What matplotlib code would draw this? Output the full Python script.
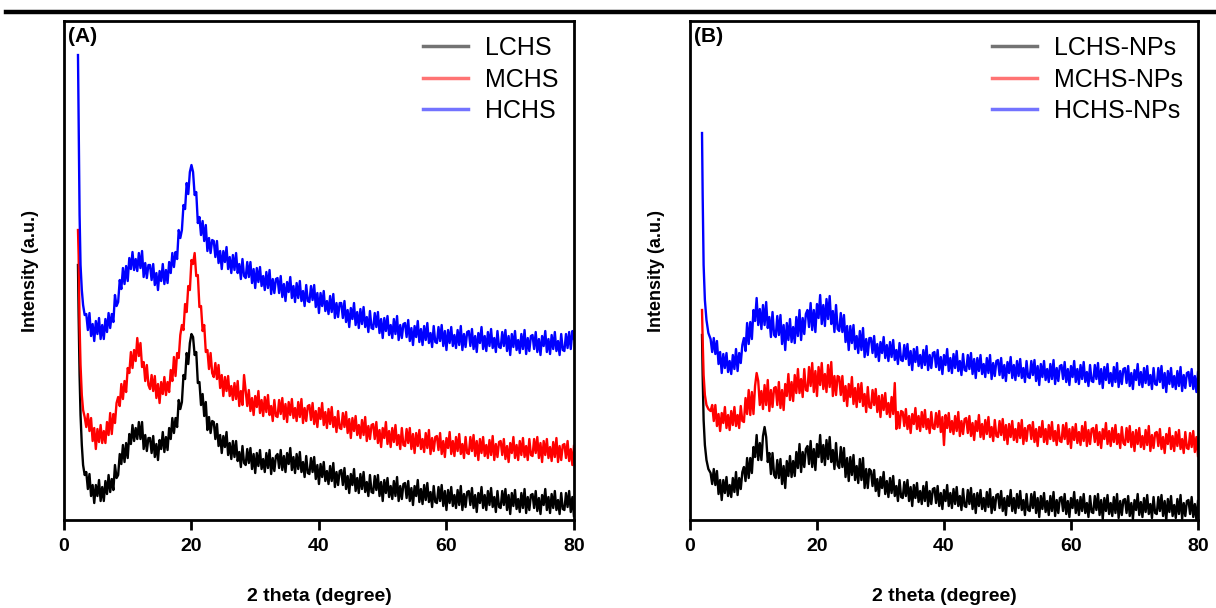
"""XRD patterns of chitosan samples (A) and their nanoparticles (B)."""
import matplotlib

matplotlib.use("Agg")
import matplotlib.pyplot as plt  # noqa: E402
import numpy as np  # noqa: E402
from matplotlib.lines import Line2D  # noqa: E402

plt.rcParams["font.family"] = ["Liberation Sans", "DejaVu Sans"]

# ---- data (intensity in arbitrary units) -----------------------------------
# a few points for the low-angle spike, then a 0.25 degree grid 3.5..80
HEAD_X_A = [2.2, 2.3, 2.45, 2.6, 2.8, 3.0, 3.25]
HEAD_X_B = [1.9, 2.0, 2.15, 2.35, 2.6, 2.9, 3.25]
BODY_X = np.arange(3.5, 80.001, 0.25)

LABELS_A = ["LCHS", "MCHS", "HCHS"]
LABELS_B = ["LCHS-NPs", "MCHS-NPs", "HCHS-NPs"]
COLORS = ["#000000", "#ff0000", "#0000ff"]

LCHS_HEAD = [250, 200, 140, 100, 70, 50, 40]
LCHS = [
    43, 26, 41, 19, 30, 12, 30, 19, 35, 14, 28, 14, 34, 21, 40, 23, 36, 25, 50, 37,
    40, 61, 51, 70, 53, 72, 57, 81, 71, 90, 74, 87, 76, 93, 76, 93, 66, 80, 64, 77,
    77, 62, 79, 58, 71, 55, 75, 66, 83, 63, 78, 65, 87, 76, 97, 82, 97, 88, 115, 106,
    113, 140, 136, 162, 151, 172, 181, 178, 160, 163, 132, 133, 110, 121, 99, 113, 85, 98, 82, 94,
    93, 76, 91, 69, 80, 62, 79, 68, 83, 60, 72, 56, 74, 58, 74, 54, 63, 48, 69, 52,
    50, 66, 52, 67, 46, 61, 42, 62, 49, 65, 46, 56, 43, 62, 47, 65, 41, 57, 44, 59,
    61, 47, 65, 45, 59, 43, 62, 51, 67, 45, 58, 42, 61, 46, 63, 43, 53, 38, 59, 42,
    41, 57, 43, 58, 36, 50, 31, 51, 38, 53, 34, 44, 31, 49, 34, 52, 28, 43, 30, 44,
    45, 30, 47, 26, 39, 22, 41, 30, 46, 24, 37, 22, 41, 26, 43, 23, 33, 19, 40, 23,
    22, 39, 25, 40, 19, 33, 14, 35, 22, 37, 18, 29, 16, 34, 19, 38, 14, 29, 16, 31,
    32, 17, 34, 14, 27, 10, 29, 19, 35, 13, 26, 11, 30, 15, 32, 13, 23, 8, 29, 13,
    12, 28, 14, 30, 9, 24, 5, 25, 12, 28, 9, 20, 7, 25, 10, 29, 5, 21, 8, 23,
    24, 10, 27, 7, 20, 3, 22, 12, 28, 7, 20, 5, 24, 10, 27, 8, 18, 3, 24, 8,
    7, 24, 10, 26, 5, 20, 1, 22, 9, 25, 6, 16, 3, 22, 7, 26, 2, 18, 5, 20,
    21, 7, 24, 4, 17, 1, 20, 10, 26, 5, 18, 2, 21, 7, 24, 5, 15, 1, 22, 6,
    5, 22, 8, 24, 3, 18, -1,
]
MCHS_HEAD = [285, 260, 190, 150, 120, 105, 98]
MCHS = [
    88, 101, 84, 97, 74, 87, 66, 86, 73, 90, 72, 84, 72, 93, 80, 102, 81, 101, 92, 112,
    118, 109, 131, 116, 134, 123, 147, 142, 163, 147, 165, 154, 177, 159, 172, 148, 153, 134, 150, 130,
    126, 140, 124, 139, 117, 131, 112, 133, 121, 138, 120, 133, 123, 145, 134, 158, 139, 162, 157, 180,
    190, 185, 211, 203, 229, 225, 255, 251, 262, 239, 240, 208, 209, 184, 190, 163, 165, 146, 162, 142,
    138, 152, 136, 150, 127, 140, 119, 138, 124, 139, 119, 129, 115, 132, 116, 134, 109, 124, 110, 140,
    124, 109, 125, 104, 117, 100, 119, 108, 124, 102, 115, 99, 118, 103, 120, 100, 109, 94, 115, 99,
    98, 115, 101, 117, 96, 111, 93, 113, 100, 116, 97, 107, 94, 113, 98, 116, 92, 107, 94, 109,
    110, 95, 112, 91, 104, 88, 107, 96, 112, 90, 103, 87, 106, 91, 108, 88, 98, 83, 104, 87,
    86, 102, 88, 103, 82, 96, 77, 97, 84, 99, 80, 90, 77, 95, 80, 98, 74, 89, 76, 90,
    91, 76, 93, 72, 85, 68, 87, 77, 93, 71, 84, 68, 87, 73, 90, 70, 80, 66, 87, 70,
    69, 86, 72, 87, 66, 81, 62, 82, 69, 85, 66, 76, 63, 82, 67, 85, 61, 77, 64, 78,
    79, 65, 82, 61, 74, 58, 77, 67, 83, 61, 74, 59, 78, 64, 81, 61, 71, 57, 78, 62,
    61, 78, 64, 80, 59, 74, 55, 76, 62, 78, 59, 70, 57, 75, 60, 79, 55, 71, 58, 73,
    74, 60, 76, 56, 69, 53, 72, 62, 78, 57, 70, 55, 74, 60, 77, 58, 69, 55, 76, 60,
    59, 76, 62, 78, 57, 72, 53, 74, 60, 76, 57, 68, 54, 73, 58, 77, 53, 69, 55, 70,
    71, 57, 74, 54, 66, 50, 69,
]
HCHS_HEAD = [460, 400, 300, 250, 225, 210, 200]
HCHS = [
    201, 185, 202, 179, 191, 174, 194, 181, 197, 176, 190, 176, 196, 183, 202, 187, 201, 193, 220, 209,
    213, 235, 226, 247, 231, 249, 234, 257, 246, 263, 245, 256, 244, 262, 247, 264, 238, 252, 237, 250,
    250, 235, 251, 230, 242, 225, 244, 234, 251, 231, 245, 232, 253, 242, 262, 248, 263, 256, 285, 277,
    285, 310, 306, 332, 321, 343, 350, 343, 320, 323, 292, 298, 280, 294, 274, 290, 264, 277, 262, 275,
    274, 258, 274, 252, 264, 246, 264, 253, 268, 246, 258, 242, 260, 245, 262, 242, 251, 236, 256, 239,
    237, 253, 238, 253, 232, 246, 227, 247, 233, 248, 229, 239, 225, 243, 227, 245, 221, 236, 222, 236,
    237, 222, 239, 218, 231, 214, 233, 223, 238, 217, 229, 213, 232, 217, 234, 214, 224, 209, 230, 214,
    213, 229, 215, 230, 208, 222, 202, 222, 209, 224, 204, 214, 201, 219, 203, 221, 197, 212, 198, 212,
    212, 197, 214, 193, 205, 188, 207, 196, 212, 190, 203, 187, 206, 191, 208, 188, 198, 183, 204, 187,
    186, 202, 188, 203, 182, 196, 177, 197, 184, 199, 180, 190, 177, 196, 181, 199, 175, 190, 177, 191,
    192, 178, 195, 174, 187, 170, 189, 178, 194, 173, 186, 170, 189, 175, 192, 172, 182, 168, 189, 173,
    172, 188, 174, 190, 169, 184, 165, 185, 172, 188, 169, 180, 167, 185, 170, 189, 165, 181, 168, 183,
    184, 169, 186, 166, 179, 163, 182, 172, 188, 166, 179, 164, 183, 169, 186, 167, 177, 163, 184, 168,
    167, 183, 169, 185, 164, 179, 160, 181, 168, 184, 165, 175, 162, 181, 166, 185, 161, 177, 164, 179,
    180, 166, 183, 163, 176, 160, 179, 169, 184, 163, 176, 161, 180, 166, 183, 164, 174, 160, 181, 165,
    164, 181, 167, 183, 166, 184, 176,
]

LCHS_NP_HEAD = [180, 140, 95, 70, 55, 46, 42]
LCHS_NP = [
    31, 46, 30, 44, 21, 35, 15, 35, 22, 38, 19, 30, 18, 37, 23, 43, 20, 37, 26, 43,
    48, 34, 57, 37, 57, 42, 68, 58, 80, 55, 72, 55, 79, 88, 78, 53, 62, 41, 62, 40,
    37, 55, 37, 56, 31, 49, 27, 54, 39, 59, 38, 54, 39, 63, 47, 71, 43, 63, 48, 66,
    69, 51, 74, 48, 66, 45, 71, 58, 80, 53, 70, 50, 75, 56, 78, 53, 65, 46, 72, 50,
    47, 68, 48, 67, 38, 57, 34, 58, 40, 60, 35, 49, 32, 56, 35, 57, 27, 46, 27, 46,
    44, 29, 45, 24, 36, 19, 38, 27, 43, 21, 34, 18, 37, 22, 39, 19, 29, 14, 35, 18,
    17, 33, 19, 35, 14, 28, 9, 30, 17, 32, 13, 24, 11, 29, 14, 33, 9, 24, 11, 26,
    27, 12, 29, 9, 22, 6, 25, 14, 30, 9, 22, 7, 26, 11, 28, 9, 19, 5, 26, 9,
    8, 25, 11, 27, 6, 21, 2, 22, 9, 25, 6, 17, 4, 23, 8, 26, 2, 18, 5, 20,
    21, 7, 24, 4, 17, 0, 19, 9, 25, 4, 17, 2, 21, 7, 24, 5, 15, 0, 21, 5,
    4, 21, 7, 23, 2, 17, -2, 19, 6, 22, 3, 14, 0, 19, 4, 23, -1, 15, 2, 17,
    18, 4, 21, 1, 14, -2, 17, 7, 23, 2, 15, 0, 18, 4, 21, 2, 12, -2, 19, 3,
    2, 19, 5, 21, 0, 15, -4, 17, 4, 20, 1, 12, -1, 18, 2, 21, -3, 14, 0, 15,
    16, 2, 19, -1, 12, -4, 15, 5, 21, 0, 13, -2, 17, 3, 20, 1, 11, -3, 18, 2,
    1, 18, 4, 20, -1, 14, -5, 16, 3, 19, -1, 10, -3, 16, 1, 20, -4, 12, -1, 14,
    15, 1, 18, -2, 11, -5, 14,
]
MCHS_NP_HEAD = [205, 175, 140, 120, 110, 106, 104]
MCHS_NP = [
    110, 94, 110, 89, 101, 84, 102, 92, 108, 87, 100, 85, 104, 90, 108, 89, 100, 87, 109, 94,
    93, 117, 101, 125, 100, 123, 101, 129, 142, 134, 110, 124, 106, 130, 110, 135, 104, 125, 108, 127,
    128, 110, 133, 107, 125, 105, 131, 119, 141, 115, 133, 114, 140, 122, 146, 122, 136, 118, 146, 125,
    124, 148, 129, 152, 123, 144, 119, 148, 130, 152, 126, 141, 123, 150, 128, 153, 119, 139, 120, 139,
    138, 120, 139, 114, 129, 109, 131, 118, 138, 111, 127, 108, 131, 113, 132, 109, 121, 103, 128, 108,
    107, 125, 110, 126, 103, 119, 98, 120, 105, 122, 101, 112, 98, 118, 101, 132, 86, 103, 87, 104,
    103, 89, 106, 86, 99, 82, 101, 91, 107, 86, 99, 84, 103, 88, 105, 86, 96, 82, 103, 87,
    86, 102, 88, 104, 83, 98, 70, 100, 87, 102, 83, 94, 81, 99, 84, 103, 79, 94, 81, 96,
    97, 82, 99, 79, 92, 75, 94, 84, 100, 78, 91, 76, 95, 81, 98, 78, 88, 74, 95, 79,
    78, 94, 80, 96, 75, 90, 71, 91, 78, 94, 75, 86, 73, 92, 77, 95, 71, 87, 74, 89,
    90, 76, 93, 73, 86, 69, 88, 78, 94, 73, 86, 71, 90, 76, 93, 74, 84, 70, 90, 74,
    73, 90, 76, 92, 71, 86, 67, 88, 75, 91, 72, 83, 70, 89, 74, 93, 69, 85, 71, 86,
    87, 73, 90, 70, 83, 67, 86, 76, 92, 71, 84, 69, 87, 73, 90, 71, 81, 67, 88, 72,
    70, 87, 73, 89, 68, 83, 64, 85, 71, 87, 68, 79, 66, 85, 70, 89, 64, 80, 67, 82,
    83, 69, 86, 66, 78, 62, 81, 71, 87, 66, 79, 64, 83, 69, 85, 66, 76, 62, 83, 67,
    66, 82, 68, 84, 63, 78, 59,
]
HCHS_NP_HEAD = [382, 320, 250, 215, 195, 182, 176]
HCHS_NP = [
    163, 177, 161, 174, 151, 163, 142, 161, 147, 162, 143, 154, 141, 160, 146, 166, 144, 162, 152, 170,
    177, 164, 192, 171, 193, 176, 205, 194, 217, 190, 206, 186, 210, 190, 213, 187, 198, 178, 203, 180,
    178, 199, 180, 200, 171, 190, 165, 192, 175, 196, 173, 188, 172, 198, 179, 205, 175, 197, 181, 201,
    205, 188, 212, 185, 205, 183, 211, 197, 220, 191, 210, 189, 216, 196, 219, 191, 204, 183, 210, 186,
    184, 202, 183, 200, 173, 189, 165, 189, 172, 190, 166, 179, 162, 184, 165, 187, 158, 176, 160, 177,
    177, 162, 179, 158, 171, 154, 173, 162, 178, 157, 170, 154, 173, 158, 175, 155, 165, 151, 172, 155,
    154, 170, 156, 171, 150, 164, 145, 166, 153, 168, 149, 160, 147, 165, 150, 169, 145, 160, 147, 162,
    163, 148, 165, 145, 158, 141, 160, 150, 166, 144, 157, 142, 161, 147, 164, 144, 154, 140, 161, 145,
    144, 160, 146, 162, 141, 156, 137, 157, 144, 160, 141, 151, 138, 157, 142, 160, 136, 152, 139, 154,
    155, 140, 157, 137, 150, 134, 153, 142, 158, 137, 150, 135, 154, 139, 156, 137, 147, 133, 154, 138,
    137, 154, 140, 155, 134, 149, 130, 151, 138, 154, 135, 146, 133, 151, 136, 155, 131, 147, 134, 149,
    150, 136, 153, 133, 146, 130, 149, 138, 154, 133, 146, 131, 150, 136, 153, 133, 143, 129, 150, 134,
    133, 150, 136, 152, 131, 146, 127, 148, 135, 151, 132, 142, 129, 148, 133, 152, 128, 144, 131, 146,
    147, 132, 149, 129, 142, 126, 145, 135, 151, 130, 143, 128, 147, 132, 149, 130, 140, 126, 147, 131,
    130, 147, 133, 149, 127, 142, 123, 144, 131, 147, 128, 139, 126, 144, 129, 148, 124, 140, 127, 142,
    143, 129, 146, 126, 139, 123, 143,
]

PANELS = [
    ("(A)", HEAD_X_A, LABELS_A, [(LCHS_HEAD, LCHS), (MCHS_HEAD, MCHS), (HCHS_HEAD, HCHS)]),
    ("(B)", HEAD_X_B, LABELS_B,
     [(LCHS_NP_HEAD, LCHS_NP), (MCHS_NP_HEAD, MCHS_NP), (HCHS_NP_HEAD, HCHS_NP)]),
]


def draw_panel(ax, tag, head_x, labels, series) -> None:
    for (head, body), color, label in zip(series, COLORS, labels):
        assert len(body) == len(BODY_X), (label, len(body))
        x = np.concatenate([head_x, BODY_X])
        y = np.concatenate([head, body])
        # fairly thick stroke so the noisy trace reads as a solid band
        ax.plot(x, y, color=color, lw=1.7, label=label)

    ax.set_xlim(0, 80)
    ax.set_ylim(-5, 494)
    ax.set_xticks([0, 20, 40, 60, 80])
    ax.set_yticks([])
    ax.tick_params(axis="x", direction="out", length=7, width=2, pad=6,
                   labelsize=14)
    for lab in ax.get_xticklabels():
        lab.set_fontweight("bold")
    for sp in ax.spines.values():
        sp.set_linewidth(2)

    ax.set_xlabel("2 theta (degree)", fontsize=14, fontweight="bold", labelpad=24)
    ax.set_ylabel("Intensity (a.u.)", fontsize=13, fontweight="bold", labelpad=18)
    ax.text(0.008, 0.988, tag, transform=ax.transAxes, ha="left", va="top",
            fontsize=15, fontweight="bold")

    leg = ax.legend(loc="upper right", frameon=False, fontsize=18,
                    handlelength=1.8, handletextpad=0.7, labelspacing=0.3,
                    borderaxespad=0.2)
    for h in leg.get_lines():
        h.set_alpha(0.55)
        h.set_linewidth(2.5)


fig = plt.figure(figsize=(12.16, 6.08), dpi=100)
ax_a = fig.add_axes([0.0526, 0.1447, 0.4194, 0.8207])
ax_b = fig.add_axes([0.5674, 0.1447, 0.4178, 0.8207])
for ax, (tag, head_x, labels, series) in zip([ax_a, ax_b], PANELS):
    draw_panel(ax, tag, head_x, labels, series)

# thick rule across the top of the figure
fig.add_artist(Line2D([0.005, 1.0], [0.980, 0.980], transform=fig.transFigure,
                      color="black", lw=3.2))

fig.savefig("out.png", dpi=100, facecolor="white")
